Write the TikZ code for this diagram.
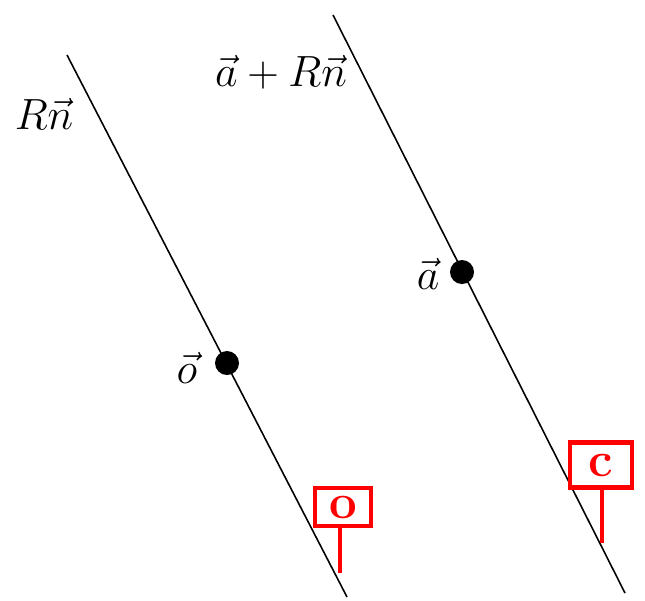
\documentclass[tikz,border=0pt]{standalone}
\usepackage{amsmath}
\tikzset{
  lbl/.style={font=\fontsize{28}{32}\selectfont},
  dot/.style={circle, fill=black, inner sep=0pt, minimum size=0.48cm},
  sign/.style={draw=red, text=red, line width=2.6pt, rectangle, inner sep=0pt, font=\fontsize{28}{30}\selectfont\bfseries},
  post/.style={red, line width=2.6pt}
}
\begin{document}
\begin{tikzpicture}[x=0.02cm, y=-0.02cm]
    \useasboundingbox (0,0) rectangle (645,600);

    \coordinate (ltop) at (67,55);
    \coordinate (lbot) at (347,597);
    \coordinate (rtop) at (333,15);
    \coordinate (rbot) at (625,593);
    \draw[line width=0.9pt] (ltop) -- (lbot);
    \draw[line width=0.9pt] (rtop) -- (rbot);

    \node[dot] (o) at (227,363) {};
    \node[dot] (a) at (462,272) {};

    \node[lbl] (Rn) at (44,114) {$R\vec{n}$};
    \node[lbl] (aRn) at (281,72) {$\vec{a}+R\vec{n}$};
    \node[lbl] (olbl) at (187,368) {$\vec{o}$};
    \node[lbl] (albl) at (428,274) {$\vec{a}$};

    \node[sign, minimum width=1.12cm, minimum height=0.76cm] (sigO) at (343,507) {o};
    \coordinate (footO) at (340,573);
    \draw[post] (sigO.south -| footO) -- (footO);

    \node[sign, minimum width=1.24cm, minimum height=0.9cm] (sigC) at (601,465) {c};
    \coordinate (footC) at (602,543);
    \draw[post] (sigC.south -| footC) -- (footC);
\end{tikzpicture}
\end{document}
